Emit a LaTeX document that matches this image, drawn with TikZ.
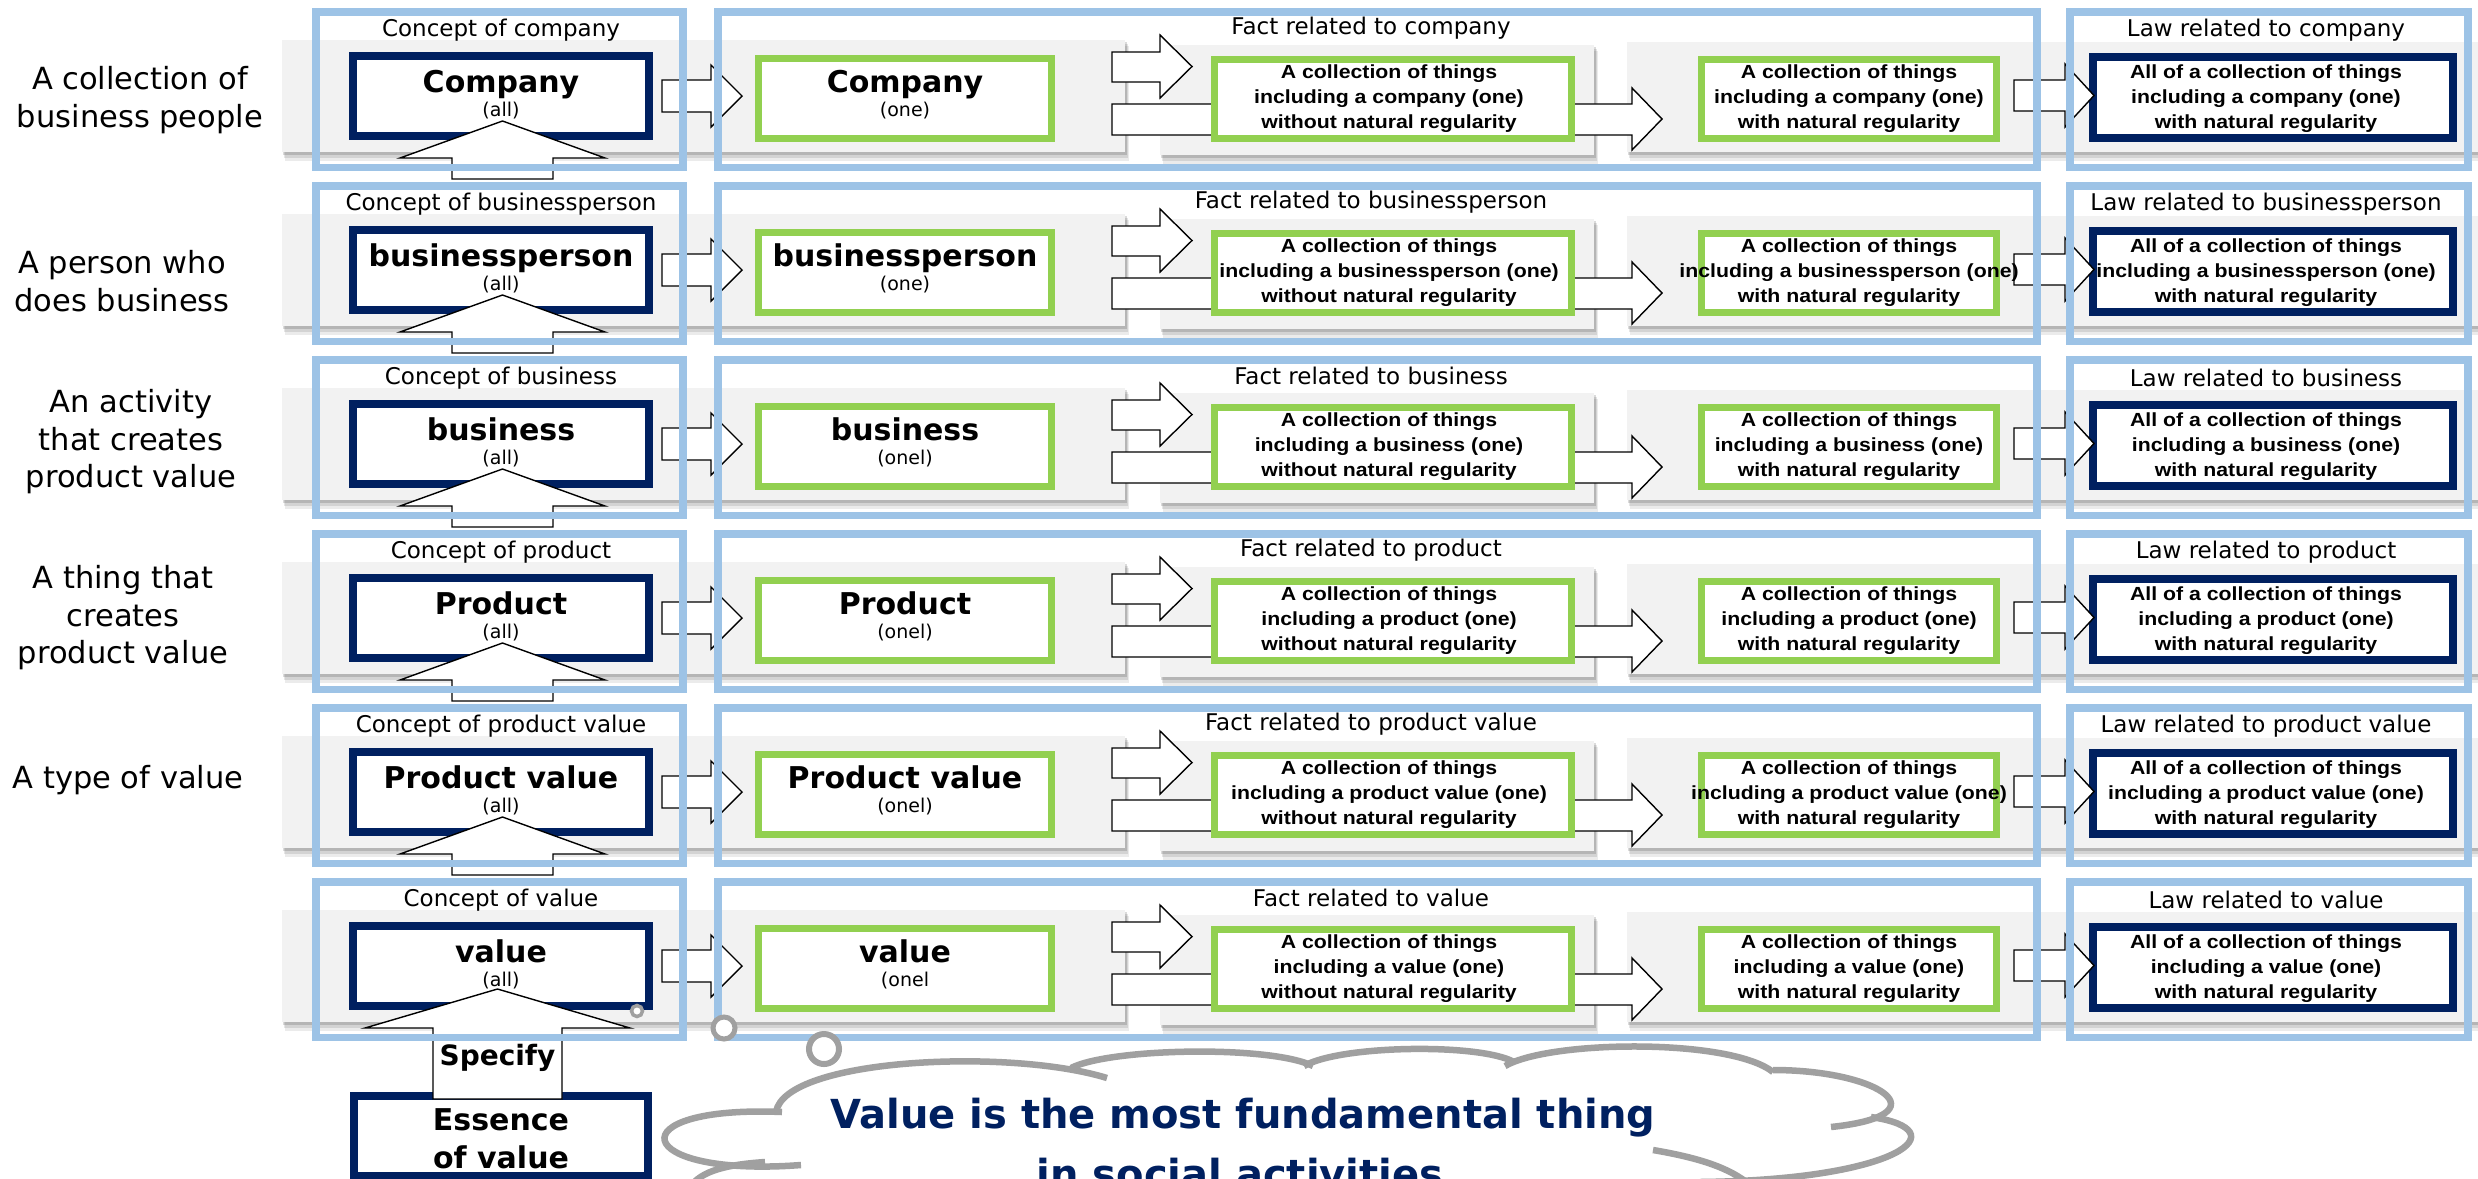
\documentclass[tikz,border=0pt]{standalone}
\usepackage{fontspec}
\setmainfont{DejaVu Sans}
\newfontfamily\boxfont[FakeStretch=1.12]{Liberation Sans}
\definecolor{lblue}{HTML}{9DC3E6}
\definecolor{navy}{HTML}{002060}
\definecolor{lgreen}{HTML}{92D050}
\definecolor{band}{HTML}{F2F2F2}
\definecolor{cgray}{HTML}{A0A0A0}
\tikzset{
 framebox/.style={draw=lblue,line width=7.5pt,inner sep=0pt},
 navybox/.style={draw=navy,line width=8pt,fill=white,inner sep=0pt},
 greenbox/.style={draw=lgreen,line width=7pt,fill=white,inner sep=0pt,minimum height=79pt},
 blockarrow/.style={draw=black,line width=1.4pt,fill=white,line join=miter},
 lbl/.style={font=\fontsize{23}{28}\selectfont,inner sep=0pt},
 sidelbl/.style={font=\fontsize{30.5}{37.5}\selectfont,align=center,inner sep=0pt},
 bigb/.style={font=\fontsize{30}{36}\selectfont\bfseries,inner sep=0pt},
 smalltxt/.style={font=\fontsize{19}{22}\selectfont,inner sep=0pt},
 boxtxt/.style={font=\boxfont\bfseries\fontsize{19}{25}\selectfont,align=center,inner sep=0pt},
 cloudtxt/.style={font=\fontsize{40}{60}\selectfont\bfseries,text=navy,inner sep=0pt},
 bubble/.style={circle,draw=cgray,fill=white,inner sep=0pt},
 puff/.style={draw=cgray,line width=6.5pt},
}
\newcommand\bandrect[4]{%
 \fill[black,opacity=0.08] ({#1+3},{#2+6}) rectangle ({#3+4},{#4+9});
 \fill[black,opacity=0.10] ({#1+2},{#2+4}) rectangle ({#3+3},{#4+6});
 \fill[black,opacity=0.14] ({#1+1},{#2+2}) rectangle ({#3+2},{#4+3});
 \fill[band] (#1,{#2}) rectangle (#3,{#4});
}
\newcommand\rarrow[7]{%
 \draw[blockarrow] (#1,{#4}) -- (#2,{#4}) -- (#2,{#6}) -- (#3,{((#6)+(#7))/2}) -- (#2,{#7}) -- (#2,{#5}) -- (#1,{#5}) -- cycle;
}
\newcommand\uparrowshape[6]{%
 \draw[blockarrow] (#1,{#2}) -- ({#1+#3},{#4}) -- ({#1+#5},{#4}) -- ({#1+#5},{#6}) -- ({#1-#5},{#6}) -- ({#1-#5},{#4}) -- ({#1-#3},{#4}) -- cycle;
}
\newcommand\drawrow[6]{%
 \bandrect{282}{#1+32}{1125}{#1+143.5}%
 \bandrect{1160}{#1+37}{1594}{#1+147}%
 \bandrect{1627}{#1+34}{2478}{#1+144}%
 \node[navybox,minimum width=296pt,minimum height=79.5pt] (concept#5) at (501,{#1+87.75}) {};
 \node[navybox,minimum width=360pt,minimum height=81pt] (law#5) at (2273,{#1+89.5}) {};
 \rarrow{662}{711}{742}{#1+72}{#1+104}{#1+57}{#1+119}%
 \rarrow{1112}{1160}{1192}{#1+44}{#1+74}{#1+27}{#1+90}%
 \rarrow{1112}{1632}{1662}{#1+96}{#1+127}{#1+80}{#1+142}%
 \rarrow{2014}{2065}{2094}{#1+72}{#1+103}{#1+56}{#1+119}%
 \ifnum#6=1 \uparrowshape{502.5}{#1+113}{102.5}{#1+150}{50.5}{#1+171}\fi
 \ifnum#6=2 \uparrowshape{497.5}{989}{132.5}{1028}{64.5}{1099}\fi
 \node[greenbox,minimum width=293pt,minimum height=80pt] (one#5) at (905,{#1+90.5}) {};
 \node[greenbox,minimum width=357pt] (without#5) at (1393,{#1+91}) {};
 \node[greenbox,minimum width=295pt] (with#5) at (1849,{#1+91}) {};
 \node[framebox,minimum width=367pt,minimum height=155.5pt] (cframe#5) at (499.5,{#1+81.75}) {};
 \node[framebox,minimum width=1319pt,minimum height=155.5pt] (fframe#5) at (1377.5,{#1+81.75}) {};
 \node[framebox,minimum width=398pt,minimum height=155.5pt] (lframe#5) at (2269,{#1+81.75}) {};
 \node[lbl] (cl#5) at (501,{#1+22}) {Concept of #2};
 \node[lbl] (fl#5) at (1371,{#1+20}) {Fact related to #2};
 \node[lbl] (ll#5) at (2266,{#1+22}) {Law related to #2};
 \node[bigb,anchor=base] (ct#5) at (501,{#1+84}) {#3};
 \node[smalltxt,anchor=base] (ca#5) at (501,{#1+108}) {(all)};
 \node[bigb,anchor=base] (ot#5) at (905,{#1+84}) {#3};
 \node[smalltxt,anchor=base] (oa#5) at (905,{#1+108}) {#4};
 \node[boxtxt] (wt#5) at (1389,{#1+91}) {A collection of things\\including a #2 (one)\\without natural regularity};
 \node[boxtxt] (wi#5) at (1849,{#1+91}) {A collection of things\\including a #2 (one)\\with natural regularity};
 \node[boxtxt] (lt#5) at (2266,{#1+91}) {All of a collection of things\\including a #2 (one)\\with natural regularity};
}
\begin{document}
\begin{tikzpicture}[x=1pt,y=-1pt]
\useasboundingbox (0,0) rectangle (2478,1178);
\clip (0,0) rectangle (2478,1178);
\fill[white] (0,0) rectangle (2478,1178);
\drawrow{8}{company}{Company}{(one)}{r1}{1}
\drawrow{182}{businessperson}{businessperson}{(one)}{r2}{1}
\drawrow{356}{business}{business}{(onel)}{r3}{1}
\drawrow{530}{product}{Product}{(onel)}{r4}{1}
\drawrow{704}{product value}{Product value}{(onel)}{r5}{1}
\node[navybox,minimum width=294pt,minimum height=80pt] (essence) at (501,1136) {};
\drawrow{878}{value}{value}{(onel}{r6}{2}
\node[bigb,font=\fontsize{28}{34}\selectfont\bfseries,anchor=base] (specify) at (497.5,1065) {Specify};
\node[bigb,anchor=base] (ess1) at (501,1130) {Essence};
\node[bigb,anchor=base] (ess2) at (501,1168) {of value};
% left labels
\node[sidelbl] (s1) at (140,100) {A collection of\\business people};
\node[sidelbl] (s2) at (122,281) {A person who\\does business};
\node[sidelbl] (s3) at (131,442) {An activity\\that creates\\product value};
\node[sidelbl] (s4) at (123,618) {A thing that\\creates\\product value};
\node[sidelbl] (s5) at (128,780) {A type of value};
% cloud (puffs)
\draw[puff] (801,1165) .. controls (630,1178) and (615,1105) .. (782,1112);
\draw[puff] (776,1112) .. controls (785,1058) and (1010,1048) .. (1107,1078);
\draw[puff] (1071,1068) .. controls (1110,1048) and (1270,1045) .. (1313,1066);
\draw[puff] (1304,1066) .. controls (1340,1045) and (1480,1043) .. (1514,1062);
\draw[puff] (1505,1066) .. controls (1550,1040) and (1730,1038) .. (1773,1072);
\draw[puff] (1773,1070) .. controls (1880,1070) and (1945,1115) .. (1831,1127);
\draw[puff] (1871,1117) .. controls (1960,1130) and (1900,1180) .. (1700,1182);
\draw[puff] (1653,1150) .. controls (1700,1158) and (1730,1168) .. (1750,1185);
\draw[puff] (765,1162) .. controls (722,1165) and (697,1172) .. (687,1192);
\node[cloudtxt,anchor=base] (ct1) at (1243,1128) {Value is the most fundamental thing};
\node[cloudtxt,anchor=base] (ct2) at (1240,1188) {in social activities};
\node[bubble,line width=3.5pt,minimum size=11pt] (b1) at (637,1011) {};
\node[bubble,line width=5pt,minimum size=22pt] (b2) at (724,1028) {};
\node[bubble,line width=6pt,minimum size=30pt] (b3) at (824,1049) {};
\end{tikzpicture}
\end{document}
